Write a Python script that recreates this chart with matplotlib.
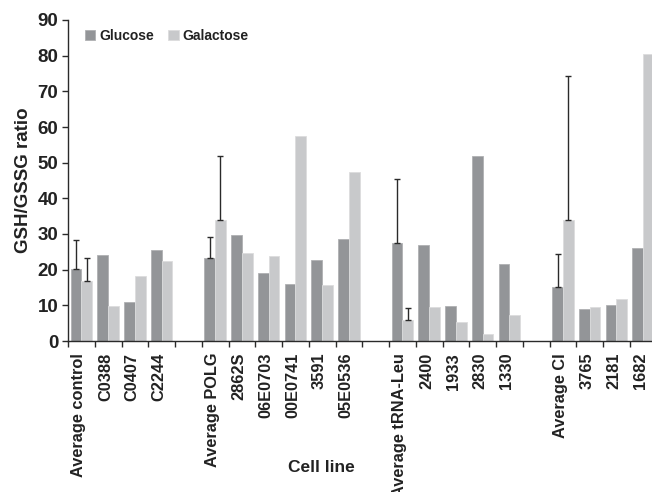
import numpy as np
import matplotlib
matplotlib.use("Agg")
import matplotlib.pyplot as plt

plt.rcParams['font.family'] = ['Liberation Sans', 'DejaVu Sans']
plt.rcParams['font.weight'] = 'bold'

# cell lines, blank entries are the gaps between groups
labels = ['Average control', 'C0388', 'C0407', 'C2244', '',
          'Average POLG', '2862S', '06E0703', '00E0741', '3591', '05E0536', '',
          'Average tRNA-Leu', '2400', '1933', '2830', '1330', '',
          'Average CI', '3765', '2181', '1682']
glucose = [20.2, 24.1, 10.9, 25.6, np.nan,
           23.3, 29.8, 19.1, 16.1, 22.7, 28.7, np.nan,
           27.5, 27.0, 9.8, 51.8, 21.7, np.nan,
           15.2, 9.1, 10.2, 26.0]
galactose = [16.7, 9.8, 18.1, 22.4, np.nan,
             33.9, 24.7, 23.8, 57.6, 15.6, 47.3, np.nan,
             6.0, 9.4, 5.3, 2.0, 7.2, np.nan,
             33.9, 9.4, 11.7, 80.5]
# top of the error bars (only the averages have them)
glucose_err_top = {0: 28.4, 5: 29.2, 12: 45.3, 18: 24.5}
galactose_err_top = {0: 23.3, 5: 51.8, 12: 9.2, 18: 74.3}

glu_col = '#939598'
gal_col = '#c8c9cb'

fig = plt.figure(figsize=(6.52, 4.92), dpi=100)
ax = fig.add_axes([68 / 652, 1 - 341 / 492, 1 - 68 / 652, 321 / 492])

x = np.arange(len(labels)) + 0.5
w = 0.4
ax.bar(x - w / 2, glucose, w, color=glu_col, edgecolor='#b0b1b3', linewidth=0.6,
       label='Glucose')
ax.bar(x + w / 2, galactose, w, color=gal_col, edgecolor='#dcdcdd', linewidth=0.6,
       label='Galactose')

for i, top in glucose_err_top.items():
    ax.errorbar(x[i] - w / 2, glucose[i], yerr=[[0], [top - glucose[i]]],
                fmt='none', ecolor='#2a2a2a', elinewidth=1.0, capsize=2.5, capthick=1.0)
for i, top in galactose_err_top.items():
    ax.errorbar(x[i] + w / 2, galactose[i], yerr=[[0], [top - galactose[i]]],
                fmt='none', ecolor='#2a2a2a', elinewidth=1.0, capsize=2.5, capthick=1.0)

ax.set_xlim(0, 21.83)
ax.set_ylim(0, 90)
ax.set_yticks(range(0, 91, 10))
ax.set_xticks(range(0, 22))
ax.set_xticklabels([])
ax.tick_params(axis='x', length=4, width=1.0, color='#2a2a2a')
ax.tick_params(axis='y', length=4, width=1.0, color='#2a2a2a', labelsize=13.5,
               labelcolor='#222222', pad=3)
for lab in ax.get_yticklabels():
    lab.set_fontweight('bold')

for i, name in enumerate(labels):
    if name:
        ax.text(x[i] - 0.1, -3.3, name, rotation=90, ha='center', va='top',
                fontsize=11.8, fontweight='bold', color='#222222', clip_on=False)

for s in ['top', 'right']:
    ax.spines[s].set_visible(False)
for s in ['left', 'bottom']:
    ax.spines[s].set_color('#2a2a2a')
    ax.spines[s].set_linewidth(1.0)

ax.set_ylabel('GSH/GSSG ratio', fontsize=13.5, fontweight='bold', color='#222222',
              labelpad=4)
fig.text(321 / 652, 1 - 468 / 492, 'Cell line', ha='center', va='center',
         fontsize=12.5, fontweight='bold', color='#222222')

leg = ax.legend(loc='center left', ncol=2, frameon=False, fontsize=10,
                handlelength=0.75, handleheight=0.75, handletextpad=0.3,
                columnspacing=1.0, borderpad=0, borderaxespad=0,
                bbox_to_anchor=(17 / 584, 1 - 16 / 321))
for t in leg.get_texts():
    t.set_fontweight('bold')
    t.set_color('#222222')

fig.savefig('out.png', dpi=100)
